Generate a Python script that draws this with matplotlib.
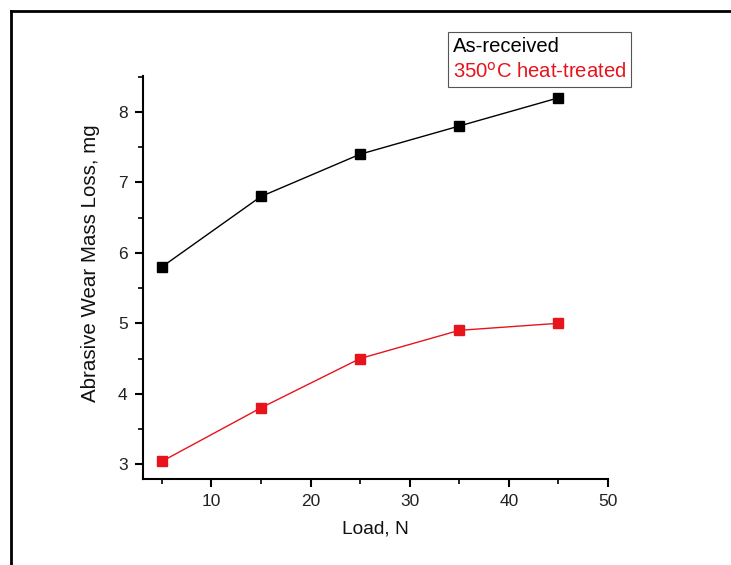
import matplotlib
matplotlib.use("Agg")
import matplotlib.pyplot as plt
from matplotlib.lines import Line2D
from matplotlib.ticker import MultipleLocator

plt.rcParams["font.family"] = ["Liberation Sans", "DejaVu Sans"]

# ── data ────────────────────────────────────────────────────────────────
load = [5, 15, 25, 35, 45]
as_received = [5.8, 6.8, 7.4, 7.8, 8.2]
heat_treated = [3.04, 3.8, 4.5, 4.9, 5.0]
labels = ["As-received", "350$^{\\mathrm{o}}$C heat-treated"]

red = "#e8141c"

fig = plt.figure(figsize=(7.31, 5.65), dpi=100)
ax = fig.add_axes([143/731, 1 - 479/565, (608 - 143)/731, (479 - 76)/565])

ax.plot(load, as_received, "-", color="black", lw=1.0,
        marker="s", ms=6.5, mfc="black", mec="black")
ax.plot(load, heat_treated, "-", color=red, lw=1.0,
        marker="s", ms=6.5, mfc=red, mec=red)

ax.set_xlim(3.1, 50)
ax.set_ylim(2.79, 8.51)
ax.xaxis.set_major_locator(MultipleLocator(10))
ax.xaxis.set_minor_locator(MultipleLocator(5))
ax.yaxis.set_major_locator(MultipleLocator(1))
ax.yaxis.set_minor_locator(MultipleLocator(0.5))

for s in ["top", "right"]:
    ax.spines[s].set_visible(False)
for s in ["left", "bottom"]:
    ax.spines[s].set_linewidth(1.5)

ax.tick_params(which="major", direction="out", length=6, width=1.5,
               labelsize=12.5, pad=5, labelcolor="#222222")
ax.tick_params(which="minor", direction="out", length=3.5, width=1.2)

ax.set_xlabel("Load, N", fontsize=13.8, labelpad=8, color="#111111")
ax.set_ylabel("Abrasive Wear Mass Loss, mg", fontsize=14.8, color="#111111")
ax.yaxis.set_label_coords(-0.092, 0.536)

# legend: text only, coloured
proxies = [Line2D([], [], linestyle="none") for _ in labels]
leg = ax.legend(proxies, labels, loc="upper left",
                bbox_to_anchor=(448/731, 1 - 32/565), bbox_transform=fig.transFigure,
                handlelength=0, handletextpad=0, fontsize=14.6,
                labelcolor=["black", red], fancybox=False, framealpha=1,
                borderpad=0.25, labelspacing=0.3, borderaxespad=0)
leg.get_frame().set_edgecolor("#555555")
leg.get_frame().set_linewidth(0.8)

# outer frame (only top and left edge visible in the crop)
fig.add_artist(Line2D([11/731, 1], [1 - 11/565, 1 - 11/565],
                      transform=fig.transFigure, color="black", lw=2))
fig.add_artist(Line2D([11/731, 11/731], [0, 1 - 11/565],
                      transform=fig.transFigure, color="black", lw=2))

fig.savefig("out.png", dpi=100)
